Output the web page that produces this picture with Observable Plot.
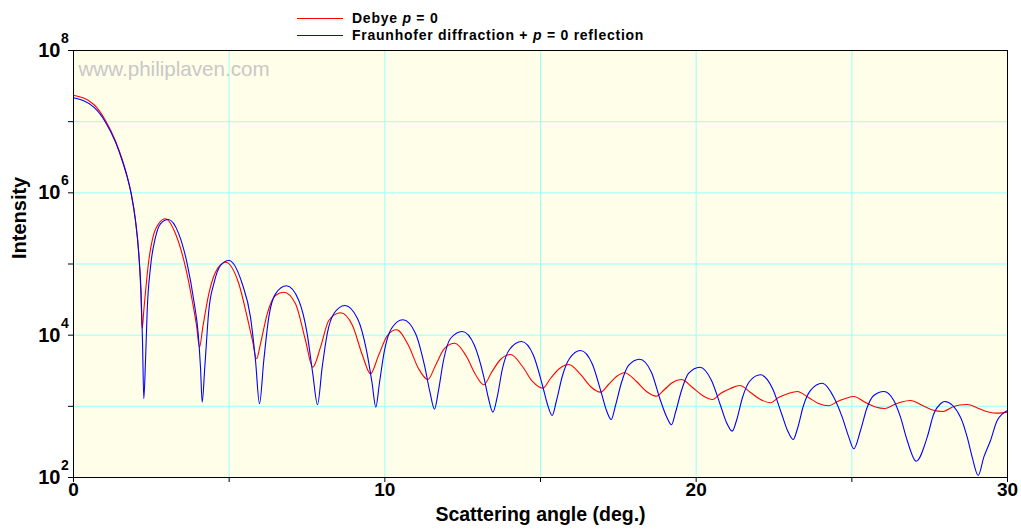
<!DOCTYPE html>
<html>
<head>
<meta charset="utf-8">
<script src="https://cdn.jsdelivr.net/npm/d3@7"></script>
<script src="https://cdn.jsdelivr.net/npm/@observablehq/plot@0.6"></script>
<style>
  html, body { margin: 0; padding: 0; background: #ffffff; }
  #wrap { position: relative; width: 1021px; height: 531px; font-family: "Liberation Sans", Arial, sans-serif; }
  #legend { position: absolute; left: 0; top: 0; width: 1021px; height: 44px; z-index: 2; }
  .lg-line { position: absolute; left: 297px; width: 46px; height: 1px; }
  .lg-text { position: absolute; left: 352px; font-size: 14px; font-weight: bold; line-height: 16px; letter-spacing: 0.75px; color: #000; white-space: nowrap; }
  #chart svg { display: block; }
</style>
</head>
<body>
<div id="wrap">
  <div id="chart"></div>
  <div id="legend">
    <div class="lg-line" style="top:18px;background:#ff0000"></div>
    <div class="lg-text" style="top:10px">Debye <i>p</i> = 0</div>
    <div class="lg-line" style="top:35px;background:#0000ff"></div>
    <div class="lg-text" style="top:27px">Fraunhofer diffraction + <i>p</i> = 0 reflection</div>
  </div>
</div>
<script>
// ---- data ----
// Debye p = 0 (red): scattering angle (deg.) and log10(intensity)
const debyeAngle = [0, 0.652, 1.028, 1.349, 1.564, 1.725, 1.853, 1.991, 2.097, 2.162, 2.207,
  2.258, 2.419, 2.579, 2.740, 2.955, 3.276, 3.597, 3.813, 3.951, 4.047,
  4.153, 4.346, 4.561, 4.882, 5.310, 5.579, 5.749, 5.878, 6.006, 6.222, 6.488, 6.755,
  7.131, 7.452, 7.686, 7.934, 8.200, 8.576, 8.961, 9.283, 9.540, 9.797, 10.086, 10.375,
  10.760, 11.081, 11.380, 11.627, 11.917, 12.247, 12.623, 12.912, 13.179, 13.426, 13.715, 14.036,
  14.422, 14.743, 15.074, 15.321, 15.610, 15.909, 16.285, 16.606, 16.927, 17.184, 17.441, 17.698,
  18.084, 18.405, 18.716, 18.983, 19.240, 19.529, 19.882, 20.203, 20.525, 20.782, 21.103, 21.402,
  21.745, 22.066, 22.388, 22.645, 22.966, 23.245, 23.608, 23.929, 24.260, 24.540, 24.797, 25.063,
  25.439, 25.760, 26.059, 26.338, 26.595, 26.884, 27.270, 27.591, 27.935, 28.201, 28.459, 28.706,
  29.069, 29.390, 29.669, 30];
const debyeLog10 = [7.372, 7.241, 7.016, 6.728, 6.468, 6.230, 5.991, 5.611, 5.148, 4.628, 4.090,
  4.347, 5.049, 5.424, 5.569, 5.635, 5.424, 4.955, 4.487, 4.136, 3.831,
  4.112, 4.581, 4.885, 5.025, 4.722, 4.253, 3.925, 3.668, 3.879, 4.300, 4.558, 4.604,
  4.441, 3.925, 3.550, 3.831, 4.206, 4.314, 4.136, 3.714, 3.457, 3.714, 3.996, 4.076,
  3.855, 3.532, 3.377, 3.574, 3.813, 3.887, 3.700, 3.448, 3.303, 3.476, 3.658, 3.728,
  3.560, 3.349, 3.255, 3.391, 3.532, 3.588, 3.448, 3.279, 3.199, 3.307, 3.419, 3.471,
  3.349, 3.209, 3.143, 3.237, 3.335, 3.377, 3.265, 3.152, 3.096, 3.181, 3.251, 3.293,
  3.195, 3.096, 3.050, 3.124, 3.181, 3.209, 3.124, 3.040, 3.008, 3.068, 3.110, 3.138,
  3.054, 2.991, 2.970, 3.019, 3.061, 3.082, 3.012, 2.949, 2.928, 2.984, 3.019, 3.026,
  2.970, 2.921, 2.904, 2.918];

// Fraunhofer diffraction + p = 0 reflection (blue)
const fraunAngle = [0, 0.652, 1.028, 1.349, 1.564, 1.725, 1.853, 1.991, 2.097, 2.168, 2.216, 2.258,
  2.313, 2.367, 2.473, 2.634, 2.794, 3.042, 3.382, 3.652, 3.864, 4.005, 4.079, 4.134,
  4.217, 4.346, 4.506, 4.722, 4.988, 5.419, 5.685, 5.846, 5.974, 6.112, 6.273, 6.488, 6.842,
  7.237, 7.506, 7.686, 7.837, 7.988, 8.149, 8.361, 8.714, 9.122, 9.411, 9.588, 9.710,
  9.829, 9.989, 10.214, 10.577, 10.985, 11.274, 11.451, 11.595, 11.724, 11.884, 12.109, 12.485,
  12.880, 13.169, 13.330, 13.468, 13.619, 13.779, 14.004, 14.390, 14.775, 15.064, 15.225, 15.376,
  15.514, 15.707, 15.932, 16.285, 16.670, 16.959, 17.120, 17.271, 17.409, 17.602, 17.827, 18.180,
  18.565, 18.854, 19.047, 19.208, 19.336, 19.529, 19.754, 20.117, 20.493, 20.782, 20.974, 21.157,
  21.296, 21.488, 21.713, 22.066, 22.452, 22.741, 22.934, 23.117, 23.255, 23.448, 23.672, 24.048,
  24.421, 24.691, 24.903, 25.063, 25.278, 25.494, 25.706, 26.027, 26.348, 26.563, 26.779, 27.068,
  27.421, 27.633, 27.848, 27.986, 28.490, 28.706, 28.866, 29.059, 29.239, 29.454, 29.669, 30];
const fraunLog10 = [7.335, 7.203, 6.993, 6.712, 6.454, 6.220, 5.987, 5.611, 5.143, 4.628, 3.925, 3.106,
  3.644, 4.347, 4.955, 5.377, 5.565, 5.625, 5.424, 5.003, 4.487, 4.024, 3.550, 3.058,
  3.550, 4.347, 4.722, 4.979, 5.049, 4.722, 4.253, 3.644, 3.036, 3.644, 4.253, 4.581, 4.694,
  4.487, 4.019, 3.457, 3.022, 3.550, 4.019, 4.300, 4.417, 4.234, 3.785, 3.335, 2.988,
  3.335, 3.785, 4.094, 4.216, 4.024, 3.574, 3.195, 2.960, 3.223, 3.644, 3.953, 4.052,
  3.855, 3.433, 3.110, 2.918, 3.152, 3.532, 3.799, 3.911, 3.714, 3.293, 3.026, 2.871,
  3.082, 3.433, 3.672, 3.785, 3.588, 3.181, 2.942, 2.815, 3.012, 3.335, 3.574, 3.662,
  3.476, 3.082, 2.857, 2.741, 2.914, 3.223, 3.462, 3.550, 3.363, 3.012, 2.773, 2.651,
  2.801, 3.124, 3.349, 3.443, 3.251, 2.900, 2.661, 2.534, 2.689, 3.012, 3.223, 3.325,
  3.129, 2.848, 2.567, 2.404, 2.661, 2.988, 3.152, 3.209, 3.082, 2.848, 2.520, 2.229,
  2.567, 2.895, 3.036, 3.068, 2.848, 2.567, 2.286, 2.028, 2.286, 2.520, 2.801, 2.942];

// axes
const xTicks = [0, 5, 10, 15, 20, 25, 30];
const xTickLabels = [0, 10, 20, 30];
const xGrid = [5, 10, 15, 20, 25];
const yTicks = [1e2, 1e3, 1e4, 1e5, 1e6, 1e7, 1e8];
const yGrid = [1e3, 1e4, 1e5, 1e6, 1e7];
const yLabelTicks = [1e2, 1e4, 1e6, 1e8];
const yLabelExponents = ["2", "4", "6", "8"];
const xTitle = "Scattering angle (deg.)";
const yTitle = "Intensity";
const watermark = "www.philiplaven.com";

const debye = debyeAngle.map((a, i) => ({angle: a, intensity: Math.pow(10, debyeLog10[i])}));
const fraun = fraunAngle.map((a, i) => ({angle: a, intensity: Math.pow(10, fraunLog10[i])}));
const yLabels = yLabelTicks.map((v, i) => ({v, e: yLabelExponents[i]}));

const bg = "#fffee8";
const grid = "#99ffff";
const font = "'Liberation Sans', Arial, sans-serif";

const chart = Plot.plot({
  width: 1021,
  height: 531,
  marginTop: 50,
  marginLeft: 73,
  marginRight: 14,
  marginBottom: 54,
  style: {background: "#ffffff", fontFamily: font, color: "#000"},
  x: {domain: [0, 30], axis: null},
  y: {type: "log", domain: [1e2, 1e8], axis: null},
  marks: [
    Plot.frame({fill: bg, stroke: null}),
    Plot.ruleX(xGrid, {stroke: grid, strokeWidth: 1}),
    Plot.ruleY(yGrid, {stroke: grid, strokeWidth: 1}),
    Plot.text([watermark], {frameAnchor: "top-left", lineAnchor: "top", textAnchor: "start", dx: 5, dy: 11, fill: "#c8c8c8", fontSize: 20.6}),
    Plot.line(debye, {x: "angle", y: "intensity", stroke: "#ff0000", strokeWidth: 1.1, curve: "monotone-x"}),
    Plot.line(fraun, {x: "angle", y: "intensity", stroke: "#0000ff", strokeWidth: 1.1, curve: "monotone-x"}),
    Plot.frame({stroke: "#000", strokeWidth: 1}),
    Plot.axisX({ticks: xTicks, tickSize: 5, tickFormat: () => "", label: null, stroke: "#000"}),
    Plot.axisY({ticks: yTicks, tickSize: 5, tickFormat: () => "", label: null, stroke: "#000"}),
    Plot.text(xTickLabels, {x: d => d, frameAnchor: "bottom", dy: 18, fontSize: 19, fontWeight: "bold", fill: "#000"}),
    Plot.text(yLabels, {y: "v", text: () => "10", frameAnchor: "left", textAnchor: "end", dx: -13, fontSize: 20, fontWeight: "bold", fill: "#000"}),
    Plot.text(yLabels, {y: "v", text: "e", frameAnchor: "left", textAnchor: "start", dx: -12.5, dy: -12, fontSize: 14, fontWeight: "bold", fill: "#000"}),
    Plot.text([xTitle], {frameAnchor: "bottom", dy: 43, fontSize: 19.5, fontWeight: "bold", fill: "#000"}),
    Plot.text([yTitle], {frameAnchor: "left", dx: -54, dy: -5, rotate: -90, fontSize: 20, fontWeight: "bold", fill: "#000"})
  ]
});
document.getElementById("chart").appendChild(chart);
</script>
</body>
</html>
